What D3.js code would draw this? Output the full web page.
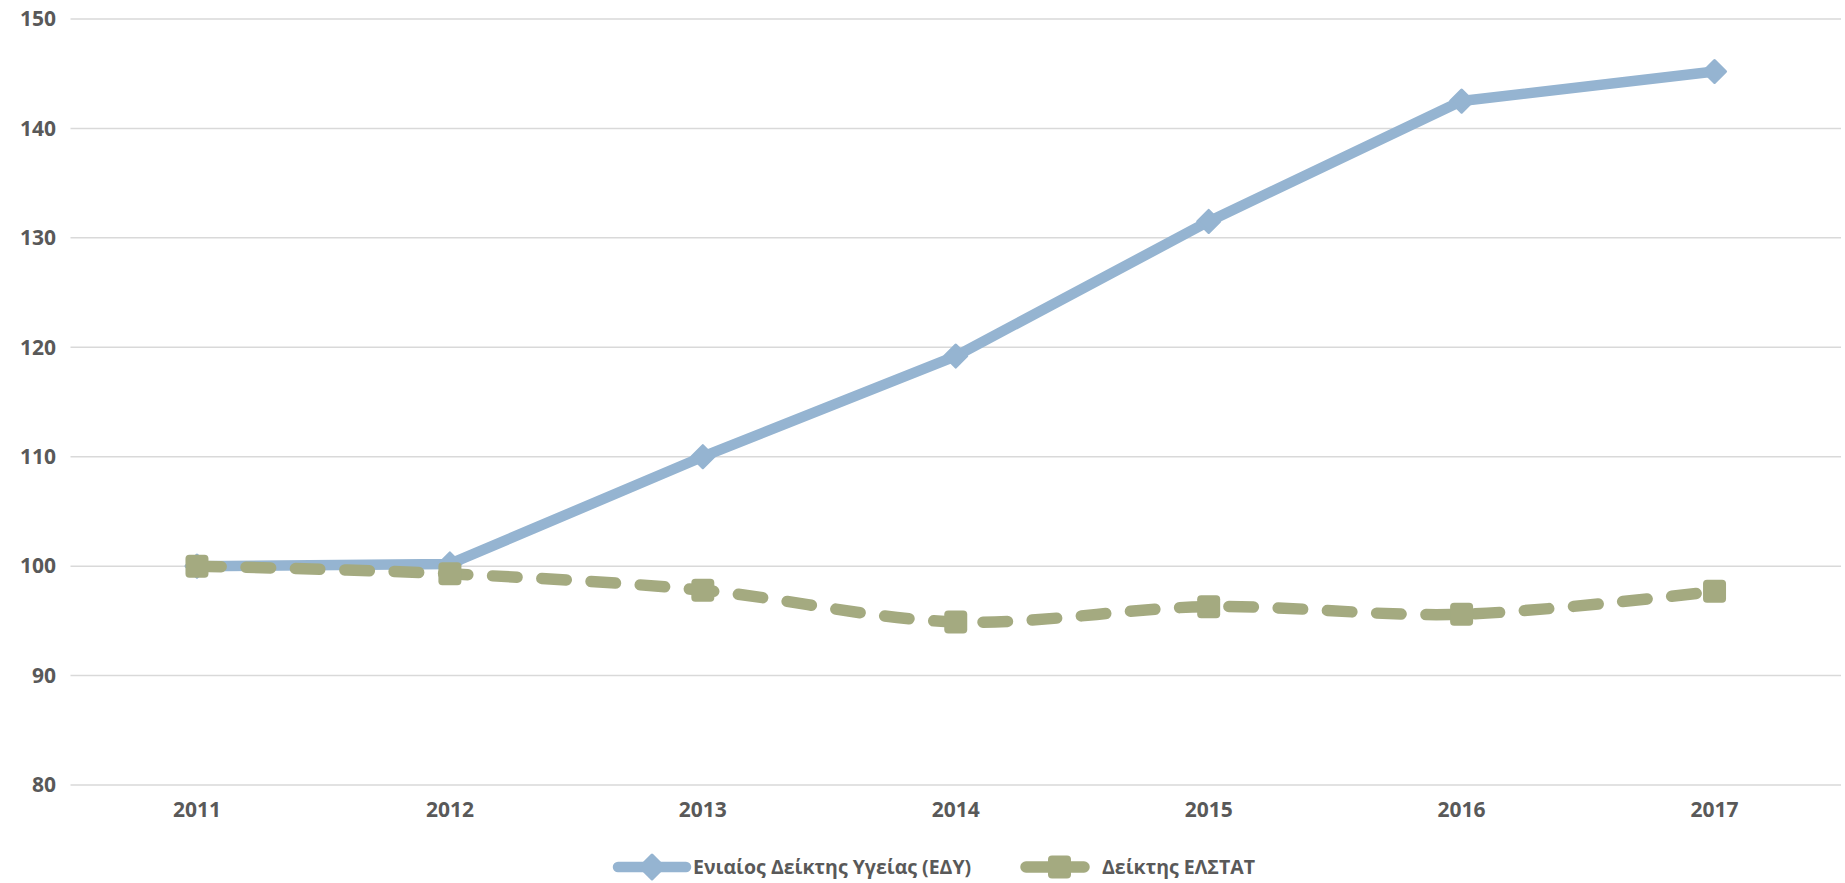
<!DOCTYPE html>
<html>

<head>
  <meta http-equiv="content-type" content="text/html; charset=utf-8">
  <title>ΕΔΥ vs ΕΛΣΤΑΤ</title>
  <style>
    body { margin: 0; background: #fff; }
    svg#canvas { display: block; }
    text { font-family: "Open Sans", "Noto Sans", sans-serif; font-weight: bold; fill: #595959; }
  </style>
</head>

<body>
  <svg id="canvas"></svg>

  <script src="https://d3js.org/d3.v7.min.js"></script>
  <script>

    const years = ["2011", "2012", "2013", "2014", "2015", "2016", "2017"];
    const edy = [100, 100.2, 110.0, 119.2, 131.5, 142.5, 145.2];
    const elstat = [100, 99.3, 97.8, 94.9, 96.3, 95.6, 97.7];
    const yTicks = [80, 90, 100, 110, 120, 130, 140, 150];
    const seriesNames = ["Ενιαίος Δείκτης Υγείας (ΕΔΥ)", "Δείκτης ΕΛΣΤΑΤ"];

    const W = 1845, H = 883;
    const blue = "#95b4d1", green = "#a4aa80";

    const svg = d3.select("svg#canvas").attr("width", W).attr("height", H);

    const x = d3.scaleBand().domain(years).range([70.5, 1841]);
    const y = d3.scaleLinear().domain([80, 150]).range([785, 19]);
    const cx = d => x(d) + x.bandwidth() / 2;

    // grid
    svg.append("g").selectAll("line")
      .data(yTicks)
      .enter().append("line")
      .attr("x1", x.range()[0]).attr("x2", x.range()[1])
      .attr("y1", d => y(d)).attr("y2", d => y(d))
      .style("stroke", "#d9d9d9").style("stroke-width", 1.5);

    // y axis labels
    const yAxis = svg.append("g")
      .attr("transform", "translate(56,0)")
      .call(d3.axisLeft(y).tickValues(yTicks).tickSize(0).tickPadding(0));
    yAxis.select(".domain").remove();
    yAxis.selectAll("text").style("font-size", "21px").style("font-family", null).attr("fill", null);

    // x axis labels
    const xAxis = svg.append("g")
      .attr("transform", "translate(0,802)")
      .call(d3.axisBottom(x).tickSize(0).tickPadding(0));
    xAxis.select(".domain").remove();
    xAxis.selectAll("text").style("font-size", "21px").style("font-family", null).attr("fill", null);

    const diamond = (s) => "M0," + (-s) + "L" + s + ",0L0," + s + "L" + (-s) + ",0Z";

    const lineSmooth = d3.line().x((d, i) => cx(years[i])).y(d => y(d)).curve(d3.curveCatmullRom.alpha(0));
    const lineStraight = d3.line().x((d, i) => cx(years[i])).y(d => y(d));

    // EDY
    svg.append("path")
      .attr("d", lineStraight(edy))
      .style("fill", "none").style("stroke", blue).style("stroke-width", 10.5)
      .style("stroke-linejoin", "round");
    svg.append("g").selectAll("path")
      .data(edy)
      .enter().append("path")
      .attr("transform", (d, i) => "translate(" + cx(years[i]) + "," + y(d) + ")")
      .attr("d", diamond(11))
      .style("fill", blue).style("stroke", blue).style("stroke-width", 3).style("stroke-linejoin", "round");

    // ELSTAT (smoothed dashed)
    svg.append("path")
      .attr("d", lineSmooth(elstat))
      .style("fill", "none").style("stroke", green).style("stroke-width", 11.5)
      .style("stroke-dasharray", "24.5,24.8").style("stroke-linecap", "round");
    svg.append("g").selectAll("rect")
      .data(elstat)
      .enter().append("rect")
      .attr("x", (d, i) => cx(years[i]) - 11.5)
      .attr("y", d => y(d) - 11.5)
      .attr("width", 23).attr("height", 23).attr("rx", 4)
      .style("fill", green);

    // legend
    const leg = svg.append("g").attr("transform", "translate(0,867)");
    leg.append("line").attr("x1", 618).attr("x2", 686).attr("y1", 0).attr("y2", 0)
      .style("stroke", blue).style("stroke-width", 10.5).style("stroke-linecap", "round");
    leg.append("path").attr("transform", "translate(652,0)").attr("d", diamond(12))
      .style("fill", blue).style("stroke", blue).style("stroke-width", 3).style("stroke-linejoin", "round");
    leg.append("text").attr("x", 693).attr("y", 0).attr("dy", "0.35em")
      .style("font-size", "19.5px").text(seriesNames[0]);

    leg.append("line").attr("x1", 1026).attr("x2", 1084).attr("y1", 0).attr("y2", 0)
      .style("stroke", green).style("stroke-width", 11.5).style("stroke-linecap", "round");
    leg.append("rect").attr("x", 1048).attr("y", -11.5).attr("width", 23).attr("height", 23).attr("rx", 4)
      .style("fill", green);
    leg.append("text").attr("x", 1102).attr("y", 0).attr("dy", "0.35em")
      .style("font-size", "19.5px").text(seriesNames[1]);

  </script>
</body>

</html>
